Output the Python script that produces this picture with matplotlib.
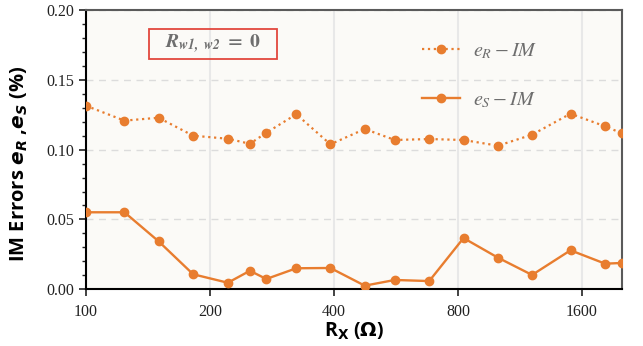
import numpy as np
import matplotlib.pyplot as plt
from matplotlib.patches import Rectangle
from matplotlib.ticker import FixedLocator, MultipleLocator, NullLocator

# -----------------------------
# Data
# -----------------------------
rx = [100, 124, 150, 182, 221, 250, 274, 324, 392, 475, 562, 681, 825, 1000, 1210, 1500, 1820, 2000]
e_r = [0.1316, 0.1209, 0.1230, 0.1101, 0.1079, 0.1043, 0.1122, 0.1255, 0.1039, 0.1149,
       0.1070, 0.1077, 0.1070, 0.1029, 0.1108, 0.1259, 0.1168, 0.1118]
e_s = [0.0551, 0.0551, 0.0343, 0.0106, 0.0045, 0.0131, 0.0072, 0.0149, 0.0151, 0.0024,
       0.0065, 0.0057, 0.0366, 0.0225, 0.0101, 0.0278, 0.0182, 0.0187]
x_ticks = [100, 200, 400, 800, 1600]
y_ticks = [0.00, 0.05, 0.10, 0.15, 0.20]

orange = '#e87d2f'
gray_txt = '#6e6e6e'

# -----------------------------
# Figure
# -----------------------------
fig = plt.figure(figsize=(6.43, 3.46), dpi=100)
ax = fig.add_axes([0.1337, 0.1647, 0.8336, 0.805])
ax.set_facecolor('#fbfaf7')

ax.plot(rx, e_r, linestyle=':', linewidth=1.6, color=orange, marker='o',
        markersize=6, label=r'$e_R - IM$', zorder=3)
ax.plot(rx, e_s, linestyle='-', linewidth=1.7, color=orange, marker='o',
        markersize=6, label=r'$e_S - IM$', zorder=3)

ax.set_xscale('log', base=2)
ax.set_xlim(100, 2000)
ax.set_ylim(0, 0.20)

ax.xaxis.set_major_locator(FixedLocator(x_ticks))
ax.xaxis.set_minor_locator(NullLocator())
ax.set_xticklabels([str(t) for t in x_ticks])
ax.yaxis.set_major_locator(FixedLocator(y_ticks))
ax.yaxis.set_minor_locator(MultipleLocator(0.01))
ax.set_yticklabels(['%.2f' % t for t in y_ticks])

for lab in ax.get_xticklabels() + ax.get_yticklabels():
    lab.set_family('Liberation Serif')
    lab.set_fontsize(11.5)
    lab.set_color('#222222')

ax.tick_params(axis='both', which='major', direction='out', length=5, width=1.2, colors='#222222')
ax.tick_params(axis='y', which='minor', direction='out', length=3, width=1, colors='#222222')
ax.tick_params(axis='x', pad=6)

# grid
ax.grid(axis='x', which='major', color='#e8e8e8', linewidth=1.5, linestyle='-', zorder=0)
ax.grid(axis='y', which='major', color='#dcdcdc', linewidth=1, linestyle='--', dashes=(5, 4), zorder=0)
ax.set_axisbelow(True)

# spines
for side in ['left', 'bottom']:
    ax.spines[side].set_color('black')
    ax.spines[side].set_linewidth(1.5)
for side in ['top', 'right']:
    ax.spines[side].set_color('#5a5a5a')
    ax.spines[side].set_linewidth(1.5)

# labels
ax.set_ylabel(r'IM Errors $\mathbfit{e}_\mathbfit{R}$ ,$\mathbfit{e}_\mathbfit{S}$ (%)', fontsize=14.5,
              fontweight='bold', family='Open Sans', math_fontfamily='dejavusans')
ax.yaxis.set_label_coords(-0.105, 0.45)
ax.set_xlabel(r'R$_\mathbf{X}$ ($\mathbf{\Omega}$)', fontsize=14, fontweight='bold',
              family='Open Sans', math_fontfamily='dejavusans', labelpad=0)

# annotation box
ax.add_patch(Rectangle((0.1175, 0.826), 0.2388, 0.1076, transform=ax.transAxes,
                       facecolor='none', edgecolor='#e2473d', linewidth=1.3, zorder=4))
ax.text(0.237, 0.879, r'$\mathbfit{R}_{\mathbfit{w1,\ w2}}\ \mathbf{=\ 0}$', transform=ax.transAxes,
        ha='center', va='center', fontsize=14, color=gray_txt, math_fontfamily='stix', zorder=4)

# legend
leg = ax.legend(loc='upper right', bbox_to_anchor=(0.875, 0.955), frameon=False,
                labelspacing=1.45, handlelength=1.9, handletextpad=0.6,
                prop=dict(size=14.5, math_fontfamily='stix'))
for t in leg.get_texts():
    t.set_color(gray_txt)

plt.savefig('out.png', dpi=100)
